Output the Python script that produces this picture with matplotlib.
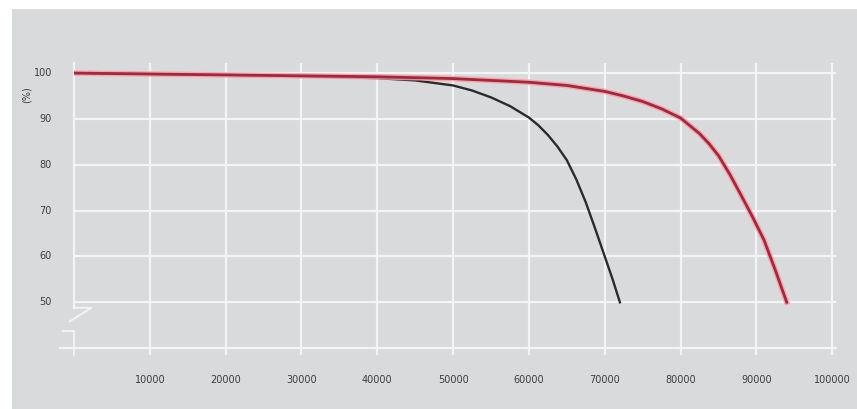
import matplotlib.pyplot as plt
from matplotlib.patches import Rectangle

# values
x_ticks = [10000, 20000, 30000, 40000, 50000, 60000, 70000, 80000, 90000, 100000]
y_ticks = [50, 60, 70, 80, 90, 100]

black_x = [0, 10000, 20000, 30000, 40000, 45000, 50000, 52500, 55000, 57500,
           60000, 61250, 62500, 63750, 65000, 66250, 67500, 68750, 70000,
           71000, 72000]
black_y = [100, 99.8, 99.6, 99.3, 98.9, 98.4, 97.3, 96.2, 94.7, 92.8,
           90.3, 88.6, 86.5, 84.0, 81.0, 76.8, 71.8, 66.0, 60.0,
           55.2, 50.0]

red_x = [0, 10000, 20000, 30000, 40000, 50000, 60000, 65000, 70000, 72500,
         75000, 77500, 80000, 82500, 83750, 85000, 86500, 88000, 89500,
         91000, 92500, 94000]
red_y = [100, 99.8, 99.6, 99.4, 99.2, 98.8, 98.0, 97.3, 96.0, 95.0,
         93.8, 92.2, 90.2, 86.8, 84.6, 82.0, 77.9, 73.3, 68.6,
         63.6, 57.0, 50.0]

bg = "#d9dadc"
grid = "#f3f4f5"
txt = "#3c3c3c"

fig = plt.figure(figsize=(8.57, 4.09), dpi=100, facecolor="white")
# grey panel
fig.patches.append(Rectangle((12 / 857, 0), 1, 1 - 9 / 409,
                             transform=fig.transFigure, facecolor=bg,
                             edgecolor="none", zorder=-5))

ax = fig.add_axes([74 / 857, 54 / 409, 762 / 857, 292 / 409])
ax.set_zorder(2)
ax.set_facecolor("none")
ax.set_xlim(0, 100500)
ax.set_ylim(38.5, 102.2)
for s in ax.spines.values():
    s.set_visible(False)
ax.set_xticks([])
ax.set_yticks([])

# grid
for v in x_ticks:
    ax.axvline(v, color=grid, lw=1.6, zorder=1)
for h in y_ticks:
    ax.axhline(h, color=grid, lw=1.6, zorder=1)
ax.plot([-1800, 100500], [40, 40], color=grid, lw=1.6, zorder=1, clip_on=False)

# y axis with break
ax.plot([0, 0], [102.2, 48.8], color=grid, lw=1.6, zorder=1, clip_on=False)
ax.plot([0, 2300, -600], [48.8, 48.8, 45.8], color=grid, lw=1.3, zorder=1, clip_on=False)
ax.plot([-1500, 0, 0], [43.8, 43.8, 38.5], color=grid, lw=1.3, zorder=1, clip_on=False)

# curves
ax.plot(black_x, black_y, color="#2b2b2d", lw=1.7, zorder=3)
ax.plot(red_x, red_y, color="#f2a0aa", lw=4.0, alpha=0.85, zorder=4)
ax.plot(red_x, red_y, color="#a8263a", lw=2.0, zorder=5)

# tick labels
for v in x_ticks:
    ax.text(v, 33.1, str(v), ha="center", va="center", fontsize=7,
            color=txt, clip_on=False)
for h in y_ticks:
    ax.text(-2900, h, str(h), ha="right", va="center", fontsize=7,
            color=txt, clip_on=False)
ax.text(-6300, 95.3, "(%)", ha="center", va="center", rotation=90,
        fontsize=7, color=txt, clip_on=False)

fig.savefig("out.png", dpi=100, facecolor="white")
